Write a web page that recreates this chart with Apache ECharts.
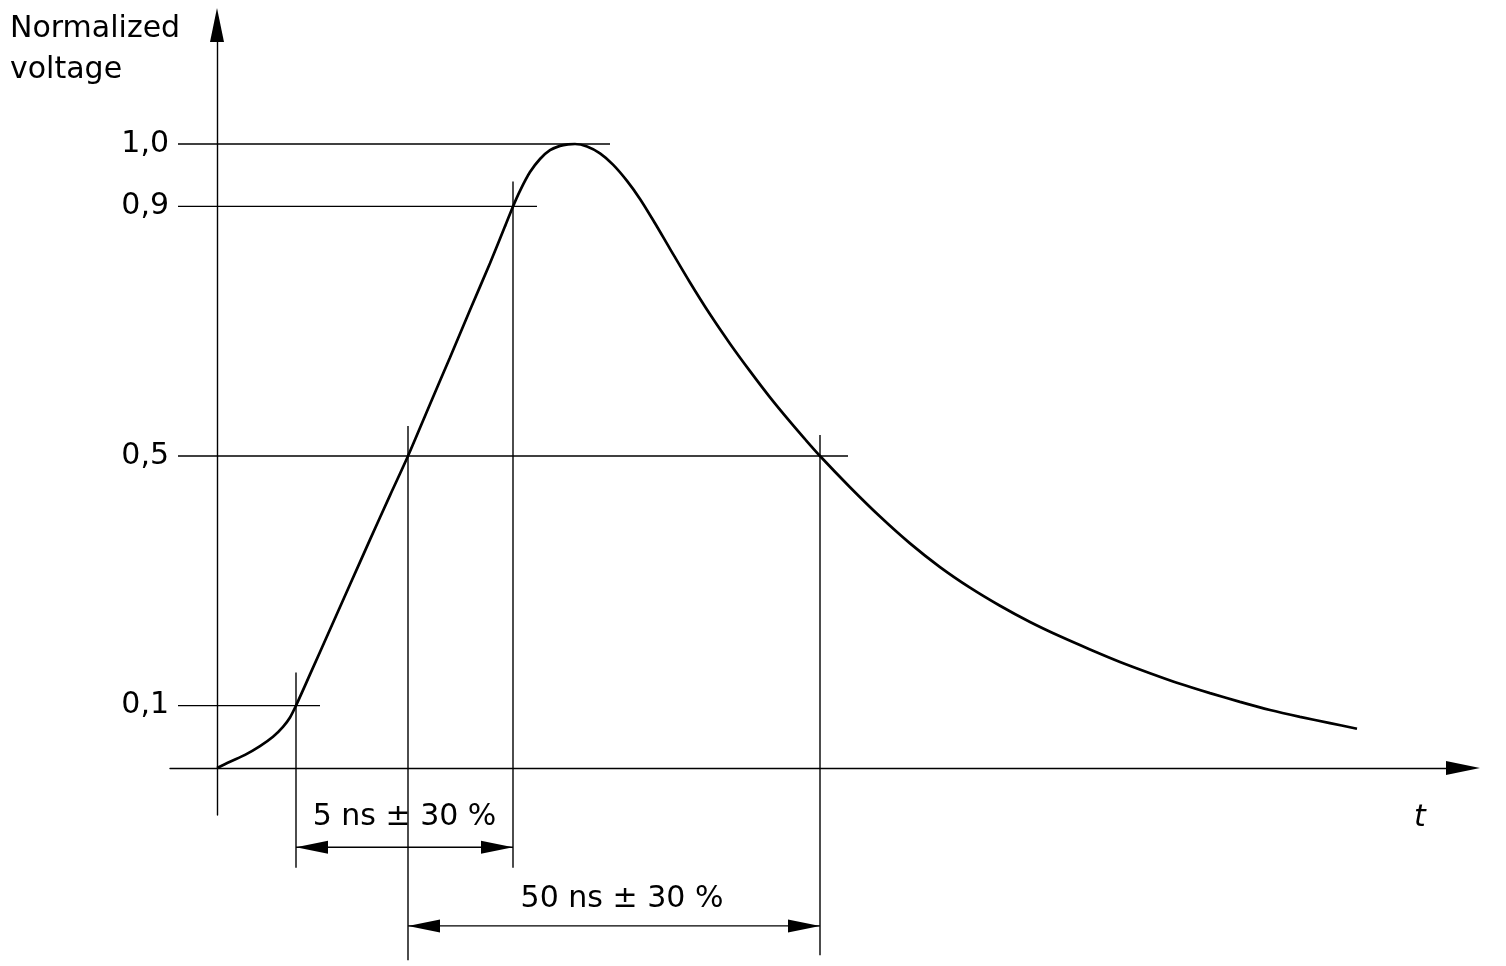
<!DOCTYPE html>
<html>
<head>
<meta charset="utf-8">
<script src="https://cdn.jsdelivr.net/npm/echarts@6/dist/echarts.min.js"></script>
<style>
  html, body { margin: 0; padding: 0; background: #fff; }
  #chart { width: 1506px; height: 966px; }
</style>
</head>
<body>
<div id="chart"></div>
<script>
// ---------- data ----------
// time in arbitrary drawing units (the sketch is not to scale), voltage normalized
const timeUnits = [0,1.3,2.8,4.3,5.6,6.6,7.3,7.9,9.3,11.3,13.3,15.3,17.3,19.1,21.3,23.3,25.3,27.3,28.8,29.6,30.3,31.3,32.3,33.3,34.3,35.1,35.8,
                   37.0,38.3,39.6,41.0,42.3,43.8,45.3,47.3,49.3,51.3,53.3,55.3,57.3,58.8,60.3,
                   63.3,66.3,69.3,72.3,75.3,78.3,81.3,84.3,87.3,90.3,93.3,96.3,99.3,102.3,105.3,108.3,111.3,114.0];
const voltage   = [0,0.010,0.021,0.035,0.050,0.066,0.081,0.100,0.150,0.222,0.294,0.366,0.437,0.500,0.583,0.658,0.734,0.809,0.868,0.900,0.925,0.955,0.976,0.990,0.997,0.9995,1.000,
                   0.996,0.985,0.967,0.941,0.912,0.873,0.832,0.778,0.727,0.680,0.636,0.594,0.555,0.527,0.500,
                   0.450,0.403,0.360,0.322,0.289,0.260,0.234,0.211,0.190,0.170,0.152,0.135,0.120,0.106,0.093,0.082,0.072,0.063];

const tickValues   = [0.1, 0.5, 0.9, 1.0];
const levelValues  = [1.0, 0.9, 0.5, 0.1];
const levelLineEnd = [39.3, 32.0, 63.1, 10.3];      // where each level line stops (time units)
const crossTimes   = [7.9, 19.1, 29.6, 60.3];       // 10 %, 50 % rise, 90 %, 50 % fall
const crossLevels  = [0.1, 0.5, 0.9, 0.5];
const crossBottom  = [-0.160, -0.308, -0.160, -0.300];
const dimFrom      = [7.9, 19.1];
const dimTo        = [29.6, 60.3];
const dimLevel     = [-0.127, -0.253];
const dimLabels    = ['5 ns ± 30 %', '50 ns ± 30 %'];
const yAxisName    = 'Normalized\nvoltage';
const xAxisName    = 't';

// ---------- layout / style ----------
const FONT = '"DejaVu Sans", "Liberation Sans", Arial, sans-serif';
const levelLineStart = -3.9;
const crossOvershoot = [33, 30, 25, 21];   // px above the level
const dimLabelGap = [30, 27];              // px above the dimension line
const dimLabelShift = [0, 8];              // px horizontal shift
const thin = 1.4;

const chart = echarts.init(document.getElementById('chart'), null, { renderer: 'canvas' });

const option = {
  animation: false,
  backgroundColor: '#ffffff',
  grid: { left: 170, top: 25, width: 1293, height: 790, containLabel: false },
  xAxis: {
    type: 'value', min: -4.7, max: 124.6,
    axisLine: { onZero: true, symbol: ['none', 'triangle'], symbolSize: [14, 34],
                lineStyle: { color: '#000', width: thin } },
    axisTick: { show: false }, axisLabel: { show: false }, splitLine: { show: false }
  },
  yAxis: {
    type: 'value', min: -0.0753, max: 1.1907,
    axisLine: { onZero: true, symbol: ['none', 'triangle'], symbolSize: [14, 34],
                lineStyle: { color: '#000', width: thin } },
    axisTick: { show: false },
    splitLine: { show: false },
    axisLabel: {
      customValues: tickValues,
      formatter: v => v.toFixed(1).replace('.', ','),
      margin: 1, color: '#000', fontSize: 30, fontFamily: FONT
    }
  },
  graphic: [
    { type: 'text', left: 10, top: 9,
      style: { text: yAxisName, fill: '#000', font: '30px ' + FONT, lineHeight: 41 } },
    { type: 'text', x: 1420, y: 818,
      style: { text: xAxisName, fill: '#000', font: 'italic 30px ' + FONT, align: 'center', verticalAlign: 'middle' } }
  ],
  series: [
    {
      type: 'line',
      data: timeUnits.map((t, i) => [t, voltage[i]]),
      smooth: 0.3,
      showSymbol: false,
      lineStyle: { color: '#000', width: 2.7 },
      silent: true,
      z: 5
    },
    {
      type: 'custom', silent: true, clip: false,
      data: levelValues.map((v, i) => [levelLineEnd[i], v]),
      renderItem: (params, api) => {
        const p1 = api.coord([levelLineStart, api.value(1)]);
        const p2 = api.coord([api.value(0), api.value(1)]);
        return { type: 'line', shape: { x1: p1[0], y1: p1[1], x2: p2[0], y2: p2[1] },
                 style: { stroke: '#000', lineWidth: thin } };
      }
    },
    {
      type: 'custom', silent: true, clip: false,
      data: crossTimes.map((t, i) => [t, crossLevels[i], crossBottom[i]]),
      renderItem: (params, api) => {
        const t = api.value(0);
        const pTop = api.coord([t, api.value(1)]);
        const pBot = api.coord([t, api.value(2)]);
        const over = crossOvershoot[params.dataIndex];
        return { type: 'line', shape: { x1: pTop[0], y1: pTop[1] - over, x2: pBot[0], y2: pBot[1] },
                 style: { stroke: '#000', lineWidth: thin } };
      }
    },
    {
      type: 'custom', silent: true, clip: false,
      data: dimFrom.map((f, i) => [f, dimTo[i], dimLevel[i]]),
      renderItem: (params, api) => {
        const a = api.coord([api.value(0), api.value(2)]);
        const b = api.coord([api.value(1), api.value(2)]);
        const y = a[1], L = 32, H = 6.5, i = params.dataIndex;
        return {
          type: 'group',
          children: [
            { type: 'line', shape: { x1: a[0], y1: y, x2: b[0], y2: y },
              style: { stroke: '#000', lineWidth: thin } },
            { type: 'polygon', shape: { points: [[a[0], y], [a[0] + L, y - H], [a[0] + L, y + H]] },
              style: { fill: '#000' } },
            { type: 'polygon', shape: { points: [[b[0], y], [b[0] - L, y - H], [b[0] - L, y + H]] },
              style: { fill: '#000' } },
            { type: 'text',
              style: { text: dimLabels[i], x: (a[0] + b[0]) / 2 + dimLabelShift[i], y: y - dimLabelGap[i],
                       fill: '#000', font: '30px ' + FONT, align: 'center', verticalAlign: 'middle' } }
          ]
        };
      }
    }
  ]
};
chart.setOption(option);
</script>
</body>
</html>
